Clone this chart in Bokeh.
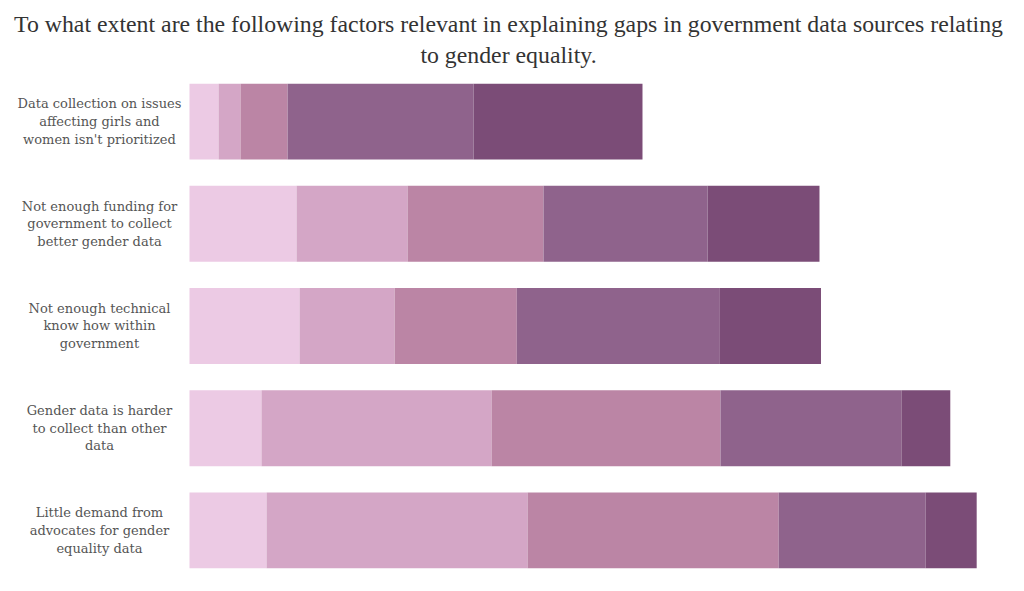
from bokeh.plotting import figure
from bokeh.models import ColumnDataSource, FactorRange, Range1d, Title
from bokeh.core.properties import value
from bokeh.embed import file_html
from bokeh.resources import INLINE

categories = [
    "Data collection on issues affecting girls and women isn't prioritized",
    "Not enough funding for government to collect better gender data",
    "Not enough technical know how within government",
    "Gender data is harder to collect than other data",
    "Little demand from advocates for gender equality data",
]
labels = [
    "Data collection on issues\naffecting girls and\nwomen isn't prioritized",
    "Not enough funding for\ngovernment to collect\nbetter gender data",
    "Not enough technical\nknow how within\ngovernment",
    "Gender data is harder\nto collect than other\ndata",
    "Little demand from\nadvocates for gender\nequality data",
]
title_lines = [
    "To what extent are the following factors relevant in explaining gaps in government data sources relating",
    "to gender equality.",
]
levels = ["not_at_all", "slightly", "somewhat", "relevant", "very"]
not_at_all = [9.7, 35.7, 36.7, 24.0, 25.7]
slightly = [7.3, 37.0, 31.7, 76.7, 87.0]
somewhat = [15.7, 45.3, 40.7, 76.3, 83.7]
relevant = [62.0, 54.7, 67.7, 60.3, 49.0]
very = [56.3, 37.3, 33.7, 16.3, 17.0]
colors = ["#ECCAE4", "#D4A6C6", "#BB85A5", "#8F638C", "#7B4C77"]

source = ColumnDataSource(dict(
    cat=categories, label=labels,
    not_at_all=not_at_all, slightly=slightly, somewhat=somewhat,
    relevant=relevant, very=very,
    lx=[-30.0] * len(categories),
))

p = figure(
    width=1016, height=583,
    y_range=FactorRange(*reversed(categories), range_padding=0),
    x_range=Range1d(-63.0, 275.67),
    output_backend="svg", toolbar_location=None,
    min_border_left=0, min_border_right=0, min_border_bottom=2, min_border_top=0,
)

def style_title(t):
    t.align = "center"
    t.text_font = "Liberation Serif"
    t.text_font_size = "23.8px"
    t.text_font_style = "normal"
    t.text_color = "#333333"

# spacer at the very top
p.title.text = " "
p.title.text_font_size = "6px"
p.title.standoff = 0

t2 = Title(text=title_lines[1])
style_title(t2)
t2.standoff = 6
p.add_layout(t2, "above")
t1 = Title(text=title_lines[0])
style_title(t1)
t1.standoff = 0
p.add_layout(t1, "above")

p.hbar_stack(levels, y="cat", height=0.743, color=colors, line_color=None, source=source)

p.text(x="lx", y="cat", text="label", source=source,
       text_align="center", text_baseline="middle",
       text_font=value("DejaVu Serif"), text_font_size="13px",
       text_color="#555555", text_line_height=1.18)

p.xaxis.visible = False
p.yaxis.visible = False
p.xgrid.visible = False
p.ygrid.visible = False
p.outline_line_color = None

open("out.html", "w").write(file_html(p, INLINE))
